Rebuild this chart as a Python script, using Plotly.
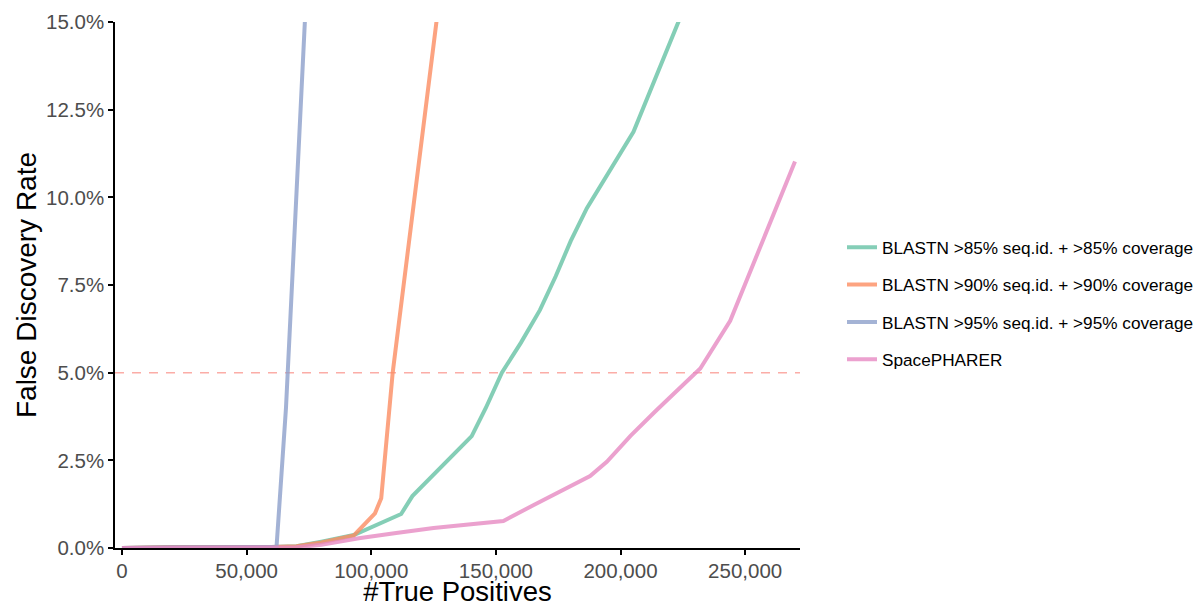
import plotly.graph_objects as go

# ---- data ----
names = [
    "BLASTN >85% seq.id. + >85% coverage",
    "BLASTN >90% seq.id. + >90% coverage",
    "BLASTN >95% seq.id. + >95% coverage",
    "SpacePHARER",
]
colors = ["#66C2A5", "#FC8D62", "#8DA0CB", "#E78AC3"]

tp_85 = [0, 20000, 60000, 70000, 80000, 93000, 112000, 116500, 140300, 146000,
         152400, 160000, 167700, 174000, 180000, 186500, 205200, 223500]
fdr_85 = [0.0, 0.0002, 0.0003, 0.0005, 0.0018, 0.0037, 0.0097, 0.0148, 0.0319, 0.0400,
          0.0500, 0.0585, 0.0679, 0.0775, 0.0875, 0.0969, 0.1187, 0.1505]

tp_90 = [0, 20000, 60000, 70000, 80000, 93000, 101500, 104000, 108600, 126500]
fdr_90 = [0.0, 0.0003, 0.0003, 0.0005, 0.0016, 0.0036, 0.0099, 0.0142, 0.0500, 0.1520]

tp_95 = [0, 20000, 62000, 65800, 73500]
fdr_95 = [0.0, 0.0002, 0.0003, 0.0400, 0.1520]

tp_sp = [0, 40000, 70000, 80000, 95000, 110000, 125000, 140000, 153000, 165000,
         187800, 194500, 204000, 214000, 224000, 232000, 244000, 270000]
fdr_sp = [0.0, 0.0, 0.0002, 0.0009, 0.0028, 0.0043, 0.0057, 0.0068, 0.0077, 0.0122,
          0.0205, 0.0246, 0.0320, 0.0390, 0.0457, 0.0512, 0.0648, 0.1102]

threshold = 0.05

x_ticks = [0, 50000, 100000, 150000, 200000, 250000]
y_ticks = [0, 0.025, 0.05, 0.075, 0.10, 0.125, 0.15]

series = [(tp_85, fdr_85), (tp_90, fdr_90), (tp_95, fdr_95), (tp_sp, fdr_sp)]

W, H = 1199, 607
L, R, T, B = 115, 399, 22, 59

fig = go.Figure()

fig.add_hline(y=threshold, line=dict(color="rgba(248,118,109,0.6)", width=1.5, dash="9px,8px"),
              layer="below")

for i, ((xs, ys), nm, col) in enumerate(zip(series, names, colors)):
    fig.add_trace(go.Scatter(
        x=xs, y=ys, mode="lines", name=nm,
        line=dict(color=col, width=4), opacity=0.8,
        legendgroup=str(i),
    ))

plot_h = H - T - B
legend_center = 303.5
legend_y = 1 - (legend_center - T) / plot_h

fig.update_layout(
    width=W, height=H,
    paper_bgcolor="white", plot_bgcolor="white",
    margin=dict(l=L, r=R, t=T, b=B, autoexpand=False),
    font=dict(family="Liberation Sans, Arial, sans-serif", color="#000000"),
    showlegend=True,
    legend=dict(
        x=(842 - L) / (W - L - R), y=legend_y, xanchor="left", yanchor="middle",
        font=dict(size=17.2, color="#000000"),
        tracegroupgap=12, bgcolor="rgba(0,0,0,0)",
        itemwidth=30,
    ),
)

fig.update_xaxes(
    range=[-2800, 272000], tickvals=x_ticks, tickformat=",d",
    showgrid=False, zeroline=False,
    showline=True, linecolor="black", linewidth=1.5,
    ticks="outside", ticklen=5, tickwidth=1.5, tickcolor="black",
    tickfont=dict(size=20.5, color="#4D4D4D"),
    ticklabelstandoff=-1,
    title=dict(text="#True Positives", font=dict(size=27.5, color="black"), standoff=4),
    automargin=False,
)
fig.update_yaxes(
    range=[0, 0.15], tickvals=y_ticks, tickformat=".1%",
    showgrid=False, zeroline=False,
    showline=True, linecolor="black", linewidth=1.5,
    ticks="outside", ticklen=5, tickwidth=1.5, tickcolor="black",
    tickfont=dict(size=20.5, color="#4D4D4D"),
    title=dict(text="False Discovery Rate", font=dict(size=28, color="black"), standoff=1),
    automargin=False,
)

# remove the browser's default 8px body margin so the figure fills the window exactly
fig.write_html(
    "out.html",
    config={"displayModeBar": False},
    post_script="document.body.style.margin='0';document.body.style.overflow='hidden';",
)
